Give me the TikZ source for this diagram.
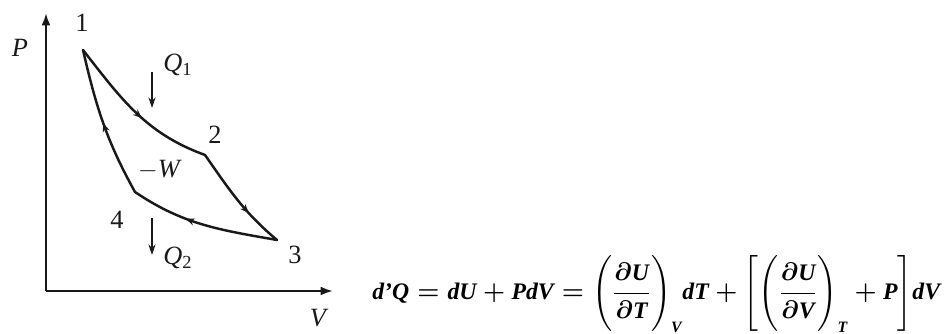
\documentclass[tikz,border=0pt]{standalone}
\usepackage{amsmath}
\usepackage{fontspec}
\setmainfont{Liberation Serif}
\usepackage{tikz}
\usetikzlibrary{arrows.meta, decorations.markings, positioning}
\definecolor{mydark}{RGB}{25,25,25}
\tikzset{
  axis/.style={-{Latex[length=7pt, width=5pt]}, line width=1.2pt, color=mydark},
  cyclepath/.style={line width=1.4pt, line cap=round, color=mydark,
    postaction={decorate}, decoration={markings,
      mark=at position #1 with {\arrow{Stealth[length=5pt, width=4pt]}}}},
  cyclepath/.default=0.55,
  heatarrow/.style={-{Stealth[length=6pt, width=4pt]}, line width=0.7pt, color=mydark},
  lbl/.style={font=\fontsize{15}{17}\selectfont, color=mydark, inner sep=1pt},
  ilbl/.style={lbl, font=\fontsize{15}{17}\selectfont\itshape}
}
\newcommand{\bivar}[1]{\mbox{\bfseries\itshape #1}}
\newcommand{\bisub}[1]{\mbox{\fontsize{9}{11}\selectfont\bfseries\itshape #1}}
\newsavebox{\lawbox}

\begin{document}
\sbox{\lawbox}{\fontsize{13.5}{16}\selectfont\boldmath
  $\bivar{d\textquoteright Q} = \bivar{dU} + \bivar{PdV} =
  \Biggl(\dfrac{\partial \bivar{U}}{\partial \bivar{T}}\Biggr)_{\bisub{V}} \bivar{dT}
  + \Biggl[\Biggl(\dfrac{\partial \bivar{U}}{\partial \bivar{V}}\Biggr)_{\bisub{T}} + \bivar{P}\Biggr]\bivar{dV}$}
\begin{tikzpicture}
  \useasboundingbox (0,0) rectangle (19,6.68);
  % axes
  \coordinate (o) at (0.92,0.86);
  \coordinate (ptop) at (0.92,6.42);
  \coordinate (vend) at (6.66,0.86);
  \draw[axis] (o) -- (ptop);
  \draw[axis] (o) -- (vend);
  \node[ilbl] (plab) at (0.40,5.72) {P};
  \node[ilbl] (vlab) at (6.36,0.32) {V};
  % states of the cycle
  \coordinate (s1) at (1.66,5.68);
  \coordinate (s2) at (4.10,3.58);
  \coordinate (s3) at (5.54,1.88);
  \coordinate (s4) at (2.70,2.84);
  \draw[cyclepath=0.55] (s1) to[out=-52, in=160] (s2);
  \draw[cyclepath=0.65] (s2) to[out=-55, in=140] (s3);
  \draw[cyclepath=0.62] (s3) to[out=170, in=-34] (s4);
  \draw[cyclepath=0.5] (s4) to[out=119, in=-77] (s1);
  \node[lbl] (n1) at (1.64,6.22) {1};
  \node[lbl] (n2) at (4.30,3.98) {2};
  \node[lbl] (n3) at (5.90,1.58) {3};
  \node[lbl] (n4) at (2.34,2.28) {4};
  \node[lbl] (work) at (3.20,3.28) {$-$\textit{W}};
  % heat in and out
  \node[lbl] (q1) at (3.56,5.38) {\textit{Q}\textsubscript{1}};
  \coordinate (q1top) at (3.04,5.24);
  \coordinate (q1bot) at (3.04,4.52);
  \draw[heatarrow] (q1top) -- (q1bot);
  \node[lbl] (q2) at (3.56,1.52) {\textit{Q}\textsubscript{2}};
  \coordinate (q2top) at (3.04,2.32);
  \coordinate (q2bot) at (3.04,1.58);
  \draw[heatarrow] (q2top) -- (q2bot);
  % first law
  \node[color=mydark, inner sep=0pt, anchor=west] (law) at (7.44,0.80) {\usebox{\lawbox}};
\end{tikzpicture}
\end{document}
